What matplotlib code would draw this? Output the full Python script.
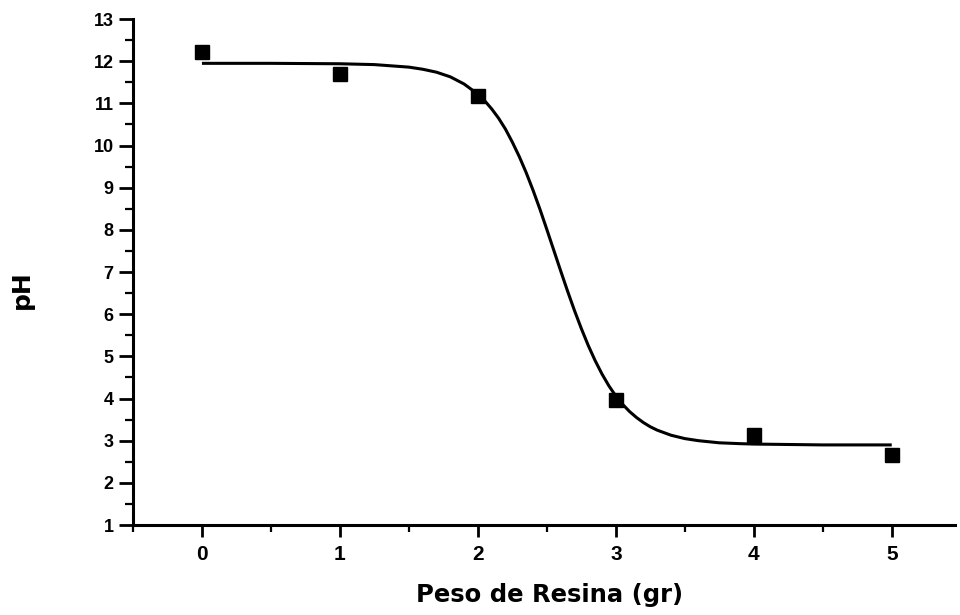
import matplotlib
matplotlib.use("Agg")
import matplotlib.pyplot as plt
from matplotlib.ticker import MultipleLocator

# measured data points
peso = [0, 1, 2, 3, 4, 5]
ph = [12.22, 11.70, 11.18, 3.97, 3.14, 2.67]

# fitted curve
curve_x = [0, 0.5, 1.0, 1.25, 1.5, 1.6, 1.7, 1.8, 1.9, 2.0, 2.05, 2.1, 2.15,
           2.2, 2.25, 2.3, 2.35, 2.4, 2.45, 2.5, 2.55, 2.6, 2.65, 2.7, 2.75,
           2.8, 2.85, 2.9, 2.95, 3.0, 3.05, 3.1, 3.15, 3.2, 3.25, 3.3, 3.4,
           3.5, 3.6, 3.75, 3.9, 4.0, 4.5, 5.0]
curve_y = [11.95, 11.95, 11.94, 11.92, 11.86, 11.81, 11.74, 11.63, 11.46,
           11.22, 11.06, 10.87, 10.65, 10.39, 10.08, 9.74, 9.36, 8.94, 8.49,
           8.01, 7.52, 7.03, 6.55, 6.09, 5.66, 5.26, 4.90, 4.58, 4.30, 4.06,
           3.86, 3.69, 3.55, 3.43, 3.33, 3.25, 3.13, 3.05, 3.00, 2.95, 2.93,
           2.92, 2.90, 2.90]

xticks = [0, 1, 2, 3, 4, 5]
yticks = list(range(1, 14))

plt.rcParams['font.family'] = ['Liberation Sans', 'DejaVu Sans']

fig = plt.figure(figsize=(9.6, 6.15), dpi=100)
ax = fig.add_axes([0.1385, 0.1463, 0.995 - 0.1385, 0.969 - 0.1463])

ax.plot(curve_x, curve_y, color='black', lw=2.2, zorder=2,
        solid_joinstyle='round', solid_capstyle='butt')
ax.plot(peso, ph, 's', color='black', markersize=10, zorder=3)

ax.set_xlim(-0.5, 5.46)
ax.set_ylim(1, 13)
ax.set_xticks(xticks)
ax.set_yticks(yticks)
ax.xaxis.set_minor_locator(MultipleLocator(0.5))
ax.yaxis.set_minor_locator(MultipleLocator(0.5))

for s in ['top', 'right']:
    ax.spines[s].set_visible(False)
for s in ['left', 'bottom']:
    ax.spines[s].set_linewidth(2.2)

ax.tick_params(axis='y', which='major', direction='out', length=10, width=2,
               labelsize=13, pad=4)
ax.tick_params(axis='y', which='minor', direction='out', length=6, width=1.6)
ax.tick_params(axis='x', which='major', direction='out', length=8.5, width=2,
               labelsize=15, pad=6)
ax.tick_params(axis='x', which='minor', direction='out', length=5, width=1.6)
for lab in ax.get_xticklabels() + ax.get_yticklabels():
    lab.set_fontweight('bold')

fig.text(550 / 960, 1 - 602 / 615, 'Peso de Resina (gr)', fontsize=17.5,
         fontweight='bold', family=['DejaVu Sans'], ha='center', va='baseline')
fig.text(22 / 960, 1 - 290 / 615, 'pH', fontsize=18, fontweight='bold',
         family=['DejaVu Sans'], rotation=90, ha='center', va='center')

fig.savefig('out.png', dpi=100)
